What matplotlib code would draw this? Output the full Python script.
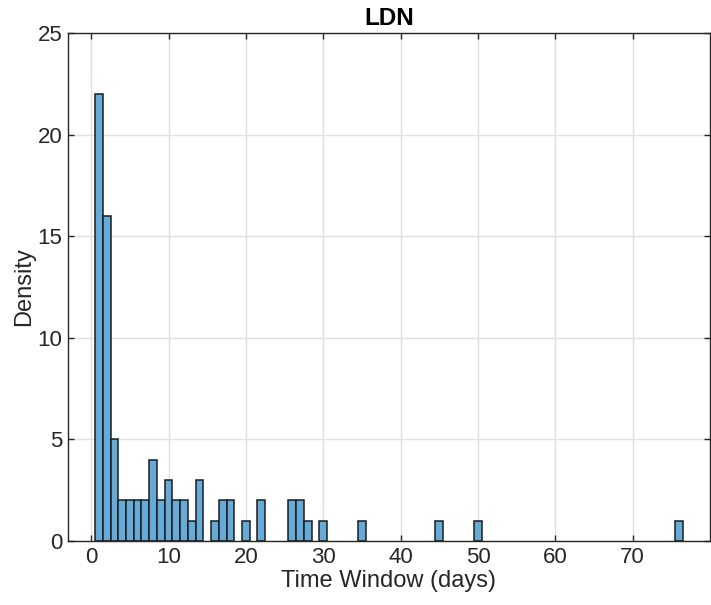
import matplotlib
matplotlib.use("Agg")
import matplotlib.pyplot as plt

# Histogram counts (bins centred on whole days, width 1)
window_days = [1, 2, 3, 4, 5, 6, 7, 8, 9, 10, 11, 12, 13, 14,
               16, 17, 18, 20, 22, 26, 27, 28, 30, 35, 45, 50, 76]
density = [22, 16, 5, 2, 2, 2, 2, 4, 2, 3, 2, 2, 1, 3,
           1, 2, 2, 1, 2, 2, 2, 1, 1, 1, 1, 1, 1]

x_ticks = [0, 10, 20, 30, 40, 50, 60, 70]
y_ticks = [0, 5, 10, 15, 20, 25]

plt.rcParams['font.family'] = ['Liberation Sans', 'DejaVu Sans']

fig = plt.figure(figsize=(7.11, 6.05), dpi=100)
ax = fig.add_axes([0.0956, 0.1058, 0.9030, 0.8397])

axis_col = '#262626'

ax.bar(window_days, density, width=1.0, align='center',
       color='#66aad7', edgecolor='#1c1c1c', linewidth=1.1, zorder=3)

ax.set_xlim(-3, 80)
ax.set_ylim(0, 25)
ax.set_xticks(x_ticks)
ax.set_yticks(y_ticks)

ax.grid(True, color='#e0e0e0', linewidth=1.0, zorder=0)
ax.set_axisbelow(True)

ax.tick_params(direction='in', length=4, width=1.0, colors=axis_col,
               labelsize=16, top=True, right=True, pad=4)
for s in ax.spines.values():
    s.set_color(axis_col)
    s.set_linewidth(1.0)
    s.set_zorder(4)

ax.set_xlabel('Time Window (days)', fontsize=17, color=axis_col, labelpad=2)
ax.set_ylabel('Density', fontsize=17, color=axis_col, labelpad=2)
ax.set_title('LDN', fontsize=17.5, fontweight='bold', color='black', pad=6)

fig.savefig('out.png', dpi=100)
